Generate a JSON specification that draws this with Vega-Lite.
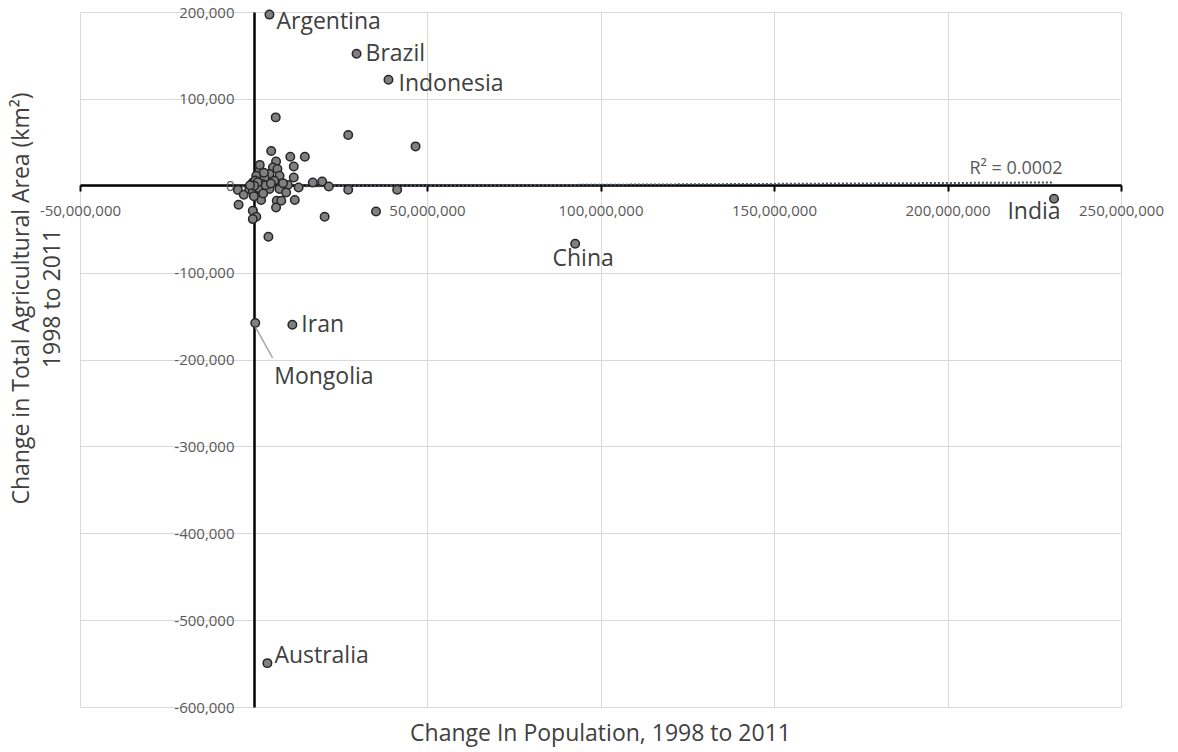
{
  "$schema": "https://vega.github.io/schema/vega-lite/v6.json",
  "width": 1041,
  "height": 695,
  "autosize": {"type": "none"},
  "padding": {"left": 80, "top": 12, "right": 57, "bottom": 45},
  "background": "white",
  "config": {"view": {"stroke": null}, "font": "Open Sans"},
  "datasets": {
    "countries": [
      {"name": "Argentina", "pop_change": 4600000, "area_change": 197000},
      {"name": "Brazil", "pop_change": 29700000, "area_change": 152000},
      {"name": "Indonesia", "pop_change": 38900000, "area_change": 122000},
      {"name": "China", "pop_change": 92700000, "area_change": -66800},
      {"name": "India", "pop_change": 230700000, "area_change": -15000},
      {"name": "Iran", "pop_change": 11200000, "area_change": -160000},
      {"name": "Mongolia", "pop_change": 500000, "area_change": -158000},
      {"name": "Australia", "pop_change": 4000000, "area_change": -549500},
      {"name": "", "pop_change": 6400000, "area_change": 78700},
      {"name": "", "pop_change": 27300000, "area_change": 58400},
      {"name": "", "pop_change": 46700000, "area_change": 45300},
      {"name": "", "pop_change": 5100000, "area_change": 40000},
      {"name": "", "pop_change": 10600000, "area_change": 33400},
      {"name": "", "pop_change": 14800000, "area_change": 33400},
      {"name": "", "pop_change": 6500000, "area_change": 28000},
      {"name": "", "pop_change": 11600000, "area_change": 22200},
      {"name": "", "pop_change": 5600000, "area_change": 21100},
      {"name": "", "pop_change": 6900000, "area_change": 19200},
      {"name": "", "pop_change": 1700000, "area_change": 17300},
      {"name": "", "pop_change": 4600000, "area_change": 13500},
      {"name": "", "pop_change": 7500000, "area_change": 11500},
      {"name": "", "pop_change": 11600000, "area_change": 9600},
      {"name": "", "pop_change": 800000, "area_change": 11500},
      {"name": "", "pop_change": 3200000, "area_change": 8900},
      {"name": "", "pop_change": 6000000, "area_change": 5800},
      {"name": "", "pop_change": -200000, "area_change": 3800},
      {"name": "", "pop_change": 9900000, "area_change": 800},
      {"name": "", "pop_change": 17100000, "area_change": 3800},
      {"name": "", "pop_change": 19800000, "area_change": 5000},
      {"name": "", "pop_change": 21700000, "area_change": -800},
      {"name": "", "pop_change": 27300000, "area_change": -4600},
      {"name": "", "pop_change": 41400000, "area_change": -4600},
      {"name": "", "pop_change": -4500000, "area_change": -5000},
      {"name": "", "pop_change": -2800000, "area_change": -10400},
      {"name": "", "pop_change": -1200000, "area_change": -3800},
      {"name": "", "pop_change": -200000, "area_change": -5800},
      {"name": "", "pop_change": 2200000, "area_change": -5800},
      {"name": "", "pop_change": 4600000, "area_change": -3800},
      {"name": "", "pop_change": 7500000, "area_change": -3800},
      {"name": "", "pop_change": 9400000, "area_change": -7700},
      {"name": "", "pop_change": 2200000, "area_change": -16500},
      {"name": "", "pop_change": 6700000, "area_change": -17300},
      {"name": "", "pop_change": 8000000, "area_change": -17300},
      {"name": "", "pop_change": 11900000, "area_change": -16500},
      {"name": "", "pop_change": 6500000, "area_change": -25000},
      {"name": "", "pop_change": -4300000, "area_change": -21900},
      {"name": "", "pop_change": -200000, "area_change": -28800},
      {"name": "", "pop_change": 800000, "area_change": -35700},
      {"name": "", "pop_change": -200000, "area_change": -38400},
      {"name": "", "pop_change": 20500000, "area_change": -35700},
      {"name": "", "pop_change": 35300000, "area_change": -29600},
      {"name": "", "pop_change": 4300000, "area_change": -58800},
      {"name": "", "pop_change": 300000, "area_change": 1500},
      {"name": "", "pop_change": 1000000, "area_change": -1000},
      {"name": "", "pop_change": 500000, "area_change": 6000},
      {"name": "", "pop_change": 2500000, "area_change": 2000},
      {"name": "", "pop_change": 1500000, "area_change": -2500},
      {"name": "", "pop_change": 3500000, "area_change": 500},
      {"name": "", "pop_change": 100000, "area_change": -12000},
      {"name": "", "pop_change": 1200000, "area_change": 4000},
      {"name": "", "pop_change": 2800000, "area_change": -9000},
      {"name": "", "pop_change": 3000000, "area_change": 15000},
      {"name": "", "pop_change": 5000000, "area_change": 2500},
      {"name": "", "pop_change": 8500000, "area_change": 3000},
      {"name": "", "pop_change": 13000000, "area_change": -2000},
      {"name": "", "pop_change": 200000, "area_change": 0},
      {"name": "", "pop_change": -1000000, "area_change": 500},
      {"name": "", "pop_change": 1800000, "area_change": 24000}
    ],
    "trend": [
      {"pop_change": -4500000, "area_change": -1000, "label": ""},
      {"pop_change": 230700000, "area_change": 3800, "label": "R² = 0.0002"}
    ],
    "leader": [
      {"pop_change": 600000, "area_change": -163000, "pop_end": 5500000, "area_end": -198000}
    ]
  },
  "encoding": {
    "x": {
      "field": "pop_change",
      "type": "quantitative",
      "scale": {"domain": [-50000000, 250000000], "nice": false, "zero": false},
      "axis": {
        "orient": "bottom",
        "offset": -522,
        "values": [-50000000, 0, 50000000, 100000000, 150000000, 200000000, 250000000],
        "labelExpr": "replace(format(datum.value, ',.0f'), '−', '-')",
        "labelFlush": false,
        "labelOverlap": false,
        "labelFontSize": 15,
        "labelColor": "#595959",
        "labelPadding": 12,
        "domainColor": "#000000",
        "domainWidth": 2.5,
        "tickColor": "#000000",
        "tickWidth": 2,
        "tickSize": 6,
        "grid": true,
        "gridColor": "#d9d9d9",
        "gridWidth": 1,
        "title": "Change In Population, 1998 to 2011",
        "titleFontSize": 23,
        "titleFontWeight": "normal",
        "titleColor": "#404040",
        "titleBaseline": "middle",
        "titleX": 520,
        "titleY": 548
      }
    },
    "y": {
      "field": "area_change",
      "type": "quantitative",
      "scale": {"domain": [-600000, 200000], "nice": false, "zero": false},
      "axis": {
        "orient": "left",
        "offset": -174,
        "values": [-600000, -500000, -400000, -300000, -200000, -100000, 0, 100000, 200000],
        "labelExpr": "replace(format(datum.value, ',.0f'), '−', '-')",
        "labelFlush": false,
        "labelOverlap": false,
        "labelFontSize": 15,
        "labelColor": "#595959",
        "labelPadding": 20,
        "ticks": false,
        "domainColor": "#000000",
        "domainWidth": 2.5,
        "grid": true,
        "gridColor": "#d9d9d9",
        "gridWidth": 1,
        "title": ["Change in Total Agricultural Area (km²)", "1998 to 2011"],
        "titleFontSize": 23,
        "titleFontWeight": "normal",
        "titleColor": "#404040",
        "titleAngle": -90,
        "titleAlign": "center",
        "titleBaseline": "top",
        "titleLineHeight": 31,
        "titleX": -244,
        "titleY": 286
      }
    }
  },
  "layer": [
    {
      "data": {"name": "trend"},
      "mark": {"type": "line", "color": "#44546a", "strokeWidth": 2, "strokeDash": [2, 2]},
      "encoding": {}
    },
    {
      "data": {"name": "countries"},
      "mark": {"type": "point", "filled": true, "fill": "#808080", "stroke": "#262626", "strokeWidth": 1.5, "size": 72, "opacity": 1}
    },
    {
      "data": {"name": "leader"},
      "mark": {"type": "rule", "color": "#a6a6a6", "strokeWidth": 1.5},
      "encoding": {
        "x2": {"field": "pop_end"},
        "y2": {"field": "area_end"}
      }
    },
    {
      "data": {"name": "trend"},
      "transform": [{"filter": "datum.label !== ''"}],
      "mark": {"type": "text", "fontSize": 18, "color": "#595959", "align": "center", "baseline": "middle", "dx": -38, "dy": -13},
      "encoding": {"text": {"field": "label"}}
    },
    {
      "data": {"name": "countries"},
      "transform": [{"filter": "datum.name === 'Argentina'"}],
      "mark": {"type": "text", "fontSize": 23, "color": "#404040", "align": "left", "baseline": "middle", "dx": 7, "dy": 7},
      "encoding": {"text": {"field": "name"}}
    },
    {
      "data": {"name": "countries"},
      "transform": [{"filter": "datum.name === 'Brazil' || datum.name === 'Iran'"}],
      "mark": {"type": "text", "fontSize": 23, "color": "#404040", "align": "left", "baseline": "middle", "dx": 9, "dy": 0},
      "encoding": {"text": {"field": "name"}}
    },
    {
      "data": {"name": "countries"},
      "transform": [{"filter": "datum.name === 'Indonesia'"}],
      "mark": {"type": "text", "fontSize": 23, "color": "#404040", "align": "left", "baseline": "middle", "dx": 10, "dy": 4},
      "encoding": {"text": {"field": "name"}}
    },
    {
      "data": {"name": "countries"},
      "transform": [{"filter": "datum.name === 'China'"}],
      "mark": {"type": "text", "fontSize": 23, "color": "#404040", "align": "center", "baseline": "middle", "dx": 8, "dy": 15},
      "encoding": {"text": {"field": "name"}}
    },
    {
      "data": {"name": "countries"},
      "transform": [{"filter": "datum.name === 'India'"}],
      "mark": {"type": "text", "fontSize": 23, "color": "#404040", "align": "center", "baseline": "middle", "dx": -20, "dy": 13},
      "encoding": {"text": {"field": "name"}}
    },
    {
      "data": {"name": "countries"},
      "transform": [{"filter": "datum.name === 'Mongolia'"}],
      "mark": {"type": "text", "fontSize": 23, "color": "#404040", "align": "left", "baseline": "middle", "dx": 19, "dy": 54},
      "encoding": {"text": {"field": "name"}}
    },
    {
      "data": {"name": "countries"},
      "transform": [{"filter": "datum.name === 'Australia'"}],
      "mark": {"type": "text", "fontSize": 23, "color": "#404040", "align": "left", "baseline": "middle", "dx": 7, "dy": -7},
      "encoding": {"text": {"field": "name"}}
    }
  ]
}
